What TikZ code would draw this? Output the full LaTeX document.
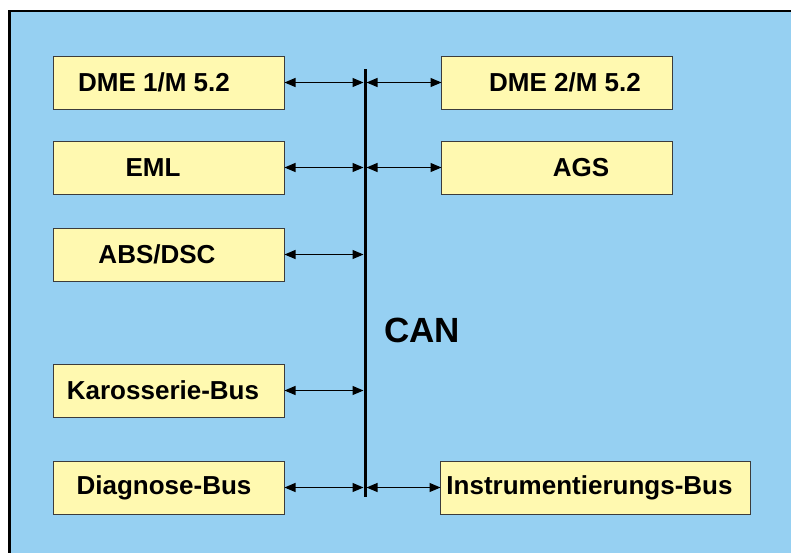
\documentclass[tikz,border=0pt]{standalone}
\usepackage{fontspec}
\setmainfont{Liberation Sans}
\usepackage{xcolor}
\usepackage{tikz}
\usetikzlibrary{positioning, calc, arrows.meta}

\definecolor{canblue}{RGB}{150,208,242}
\definecolor{ecuyellow}{RGB}{255,249,176}
\definecolor{edgegray}{RGB}{60,60,60}

\begin{document}
\begin{tikzpicture}[
    x=1pt, y=-1pt,
    node distance=32pt and 157pt,
    box/.style={draw=edgegray, line width=0.8pt, fill=ecuyellow, minimum width=231pt, minimum height=53pt, inner sep=0pt, outer sep=0pt, font=\fontsize{26}{30}\selectfont\bfseries},
    arr/.style={{Triangle[length=11pt,width=9pt]}-{Triangle[length=11pt,width=9pt]}, line width=1.1pt},
]
\useasboundingbox (0,0) rectangle (791,552);
\clip (0,0) rectangle (791,552);

% Background
\draw[fill=canblue, line width=2.5pt] (9.5,11) rectangle (830,590);

% CAN bus
\coordinate (bustop) at (365,69);
\coordinate (busbot) at (365,497);
\draw[line width=3pt] (bustop) -- (busbot);
\node[font=\fontsize{35}{40}\selectfont\bfseries] (can) at (422,330) {CAN};

% Left column
\node[box, anchor=north west] (dme1) at (53.5,56) {DME 1/M 5.2\hspace*{30pt}};
\draw[arr] (dme1.east) -- ($(dme1.east -| bustop)+(-1.5,0)$);

\node[box, below=32pt of dme1] (eml) {EML\hspace*{32pt}};
\draw[arr] (eml.east) -- ($(eml.east -| bustop)+(-1.5,0)$);

\node[box, below=34pt of eml] (abs) {ABS/DSC\hspace*{24pt}};
\draw[arr] (abs.east) -- ($(abs.east -| bustop)+(-1.5,0)$);

\node[box, below=83pt of abs] (karo) {Karosserie-Bus\hspace*{12pt}};
\draw[arr] (karo.east) -- ($(karo.east -| bustop)+(-1.5,0)$);

\node[box, below=44pt of karo] (diag) {Diagnose-Bus\hspace*{10pt}};
\draw[arr] (diag.east) -- ($(diag.east -| bustop)+(-1.5,0)$);

% Right column
\node[box, right=157pt of dme1] (dme2) {\hspace*{16pt}DME 2/M 5.2};
\draw[arr] ($(dme2.west -| bustop)+(1.5,0)$) -- (dme2.west);

\node[box, right=157pt of eml] (ags) {\hspace*{48pt}AGS};
\draw[arr] ($(ags.west -| bustop)+(1.5,0)$) -- (ags.west);

\node[box, minimum width=310pt, right=156pt of diag] (instr) {Instrumentierungs-Bus\hspace*{12pt}};
\draw[arr] ($(instr.west -| bustop)+(1.5,0)$) -- (instr.west);

\end{tikzpicture}
\end{document}
